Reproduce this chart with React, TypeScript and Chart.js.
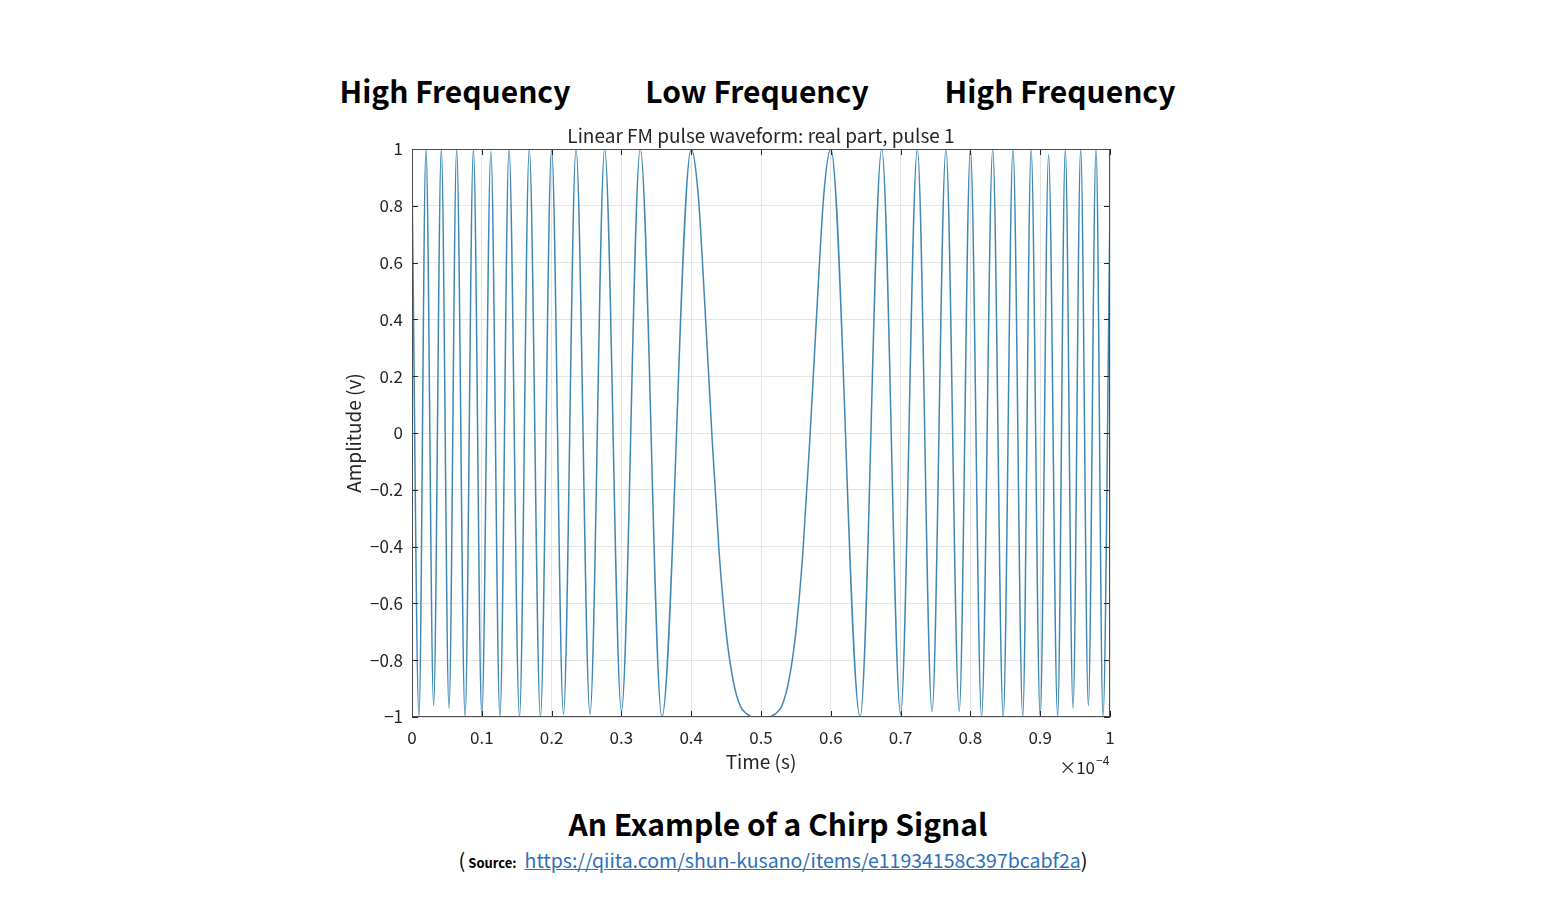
import React, { useEffect, useRef } from "react";
import { Chart, registerables, ChartConfiguration, Plugin } from "chart.js";

Chart.register(...registerables);

// texts
const headerLabels = ["High Frequency", "Low Frequency", "High Frequency"];
const headerCenters = [455, 757, 1060];
const chartTitle = "Linear FM pulse waveform: real part, pulse 1";
const xAxisTitle = "Time (s)";
const yAxisTitle = "Amplitude (v)";
const caption = "An Example of a Chirp Signal";
const sourceUrl = "https://qiita.com/shun-kusano/items/e11934158c397bcabf2a";

// ticks (x in units of 1e-4 s)
const xTicks = [0, 0.1, 0.2, 0.3, 0.4, 0.5, 0.6, 0.7, 0.8, 0.9, 1];
const yTicks = [-1, -0.8, -0.6, -0.4, -0.2, 0, 0.2, 0.4, 0.6, 0.8, 1];

// chirp waveform (turning points + points on the slow middle lobe)
const timeValues = [
  0, 0.01, 0.02, 0.031, 0.042, 0.053, 0.064, 0.076, 0.088, 0.1,
  0.113, 0.126, 0.139, 0.154, 0.168, 0.184, 0.2, 0.217, 0.235, 0.255,
  0.276, 0.3, 0.327, 0.358, 0.4, 0.41, 0.42, 0.43, 0.44, 0.45,
  0.46, 0.47, 0.48, 0.49, 0.5, 0.51, 0.52, 0.53, 0.54, 0.55,
  0.56, 0.57, 0.58, 0.59, 0.6, 0.642, 0.673, 0.7, 0.724, 0.745,
  0.765, 0.784, 0.8, 0.816, 0.832, 0.847, 0.861, 0.875, 0.887, 0.9,
  0.912, 0.925, 0.936, 0.947, 0.958, 0.969, 0.98, 0.99, 1,
];
const amplitudeValues = [
  0.9, -1, 1, -0.96, 1, -0.97, 1, -1, 1, -1,
  0.99, -1, 1, -1, 1, -1, 1, -0.99, 1, -0.99,
  1, -0.98, 1, -1, 1, 0.84, 0.43, -0.02, -0.42, -0.7,
  -0.87, -0.96, -0.99, -1, -1, -1, -0.99, -0.96, -0.87, -0.7,
  -0.42, -0.02, 0.43, 0.84, 1, -1, 1, -0.99, 1, -0.98,
  1, -0.98, 1, -1, 1, -1, 1, -1, 1, -1,
  0.98, -1, 1, -0.97, 1, -0.96, 1, -1, 0.78,
];

const axisColor = "#262626";
const textFont = "'Noto Sans CJK JP', 'Noto Sans', sans-serif";

const fmt = (v: number) => (v < 0 ? "\u2212" + String(Math.abs(v)) : String(v));

// MATLAB-like box: inward ticks on all sides, title over the axes, x exponent
const framePlugin: Plugin<"line"> = {
  id: "matlabFrame",
  afterDraw(chart) {
    const { ctx, chartArea: a, scales } = chart;
    const xs = scales.x;
    const ys = scales.y;
    const tl = 6;
    ctx.save();
    ctx.strokeStyle = axisColor;
    ctx.lineWidth = 1;
    ctx.beginPath();
    xTicks.forEach((v) => {
      const px = Math.round(xs.getPixelForValue(v)) + 0.5;
      ctx.moveTo(px, a.bottom);
      ctx.lineTo(px, a.bottom - tl);
      ctx.moveTo(px, a.top);
      ctx.lineTo(px, a.top + tl);
    });
    yTicks.forEach((v) => {
      const py = Math.round(ys.getPixelForValue(v)) + 0.5;
      ctx.moveTo(a.left, py);
      ctx.lineTo(a.left + tl, py);
      ctx.moveTo(a.right, py);
      ctx.lineTo(a.right - tl, py);
    });
    ctx.stroke();
    ctx.strokeStyle = "#4d4d4d";
    ctx.strokeRect(a.left + 0.5, a.top + 0.5, a.width - 1, a.height - 1);

    ctx.fillStyle = axisColor;
    ctx.textBaseline = "middle";
    ctx.textAlign = "center";
    ctx.font = "19px " + textFont;
    ctx.fillText(chartTitle, (a.left + a.right) / 2, a.top - 13);

    ctx.textAlign = "right";
    ctx.font = "17px " + textFont;
    ctx.fillText("\u00d710", a.right - 15, a.bottom + 51);
    ctx.textAlign = "left";
    ctx.font = "12px " + textFont;
    ctx.fillText("\u22124", a.right - 14, a.bottom + 43);
    ctx.restore();
  },
};

const ChirpChart: React.FC = () => {
  const canvasRef = useRef<HTMLCanvasElement>(null);
  const chartRef = useRef<Chart<"line"> | null>(null);

  useEffect(() => {
    if (!canvasRef.current) return;
    const points = timeValues.map((t, i) => ({ x: t, y: amplitudeValues[i] }));
    const config: ChartConfiguration<"line"> = {
      type: "line",
      data: {
        datasets: [
          {
            data: points,
            borderColor: "#3f88b6",
            borderWidth: 1.5,
            pointRadius: 0,
            cubicInterpolationMode: "monotone",
            fill: false,
          },
        ],
      },
      options: {
        animation: false,
        responsive: true,
        maintainAspectRatio: false,
        layout: { padding: { left: 0, top: 29, right: 50, bottom: 0 } },
        plugins: {
          legend: { display: false },
          tooltip: { enabled: false },
          title: { display: false },
        },
        scales: {
          x: {
            type: "linear",
            min: 0,
            max: 1,
            afterBuildTicks: (s) => {
              s.ticks = xTicks.map((v) => ({ value: v }));
            },
            afterFit: (s) => {
              s.height = 83;
            },
            ticks: {
              color: axisColor,
              font: { family: textFont, size: 17 },
              padding: 10.5,
              maxRotation: 0,
              autoSkip: false,
              callback: (v) => fmt(Number(v)),
            },
            grid: { color: "#e4e4e4", drawTicks: false },
            border: { display: false },
            title: {
              display: true,
              text: xAxisTitle,
              color: axisColor,
              font: { family: textFont, size: 19 },
              padding: { top: 0, bottom: 26.6 },
            },
          },
          y: {
            type: "linear",
            min: -1,
            max: 1,
            afterBuildTicks: (s) => {
              s.ticks = yTicks.map((v) => ({ value: v }));
            },
            afterFit: (s) => {
              s.width = 112;
            },
            ticks: {
              color: axisColor,
              font: { family: textFont, size: 17 },
              padding: 9,
              autoSkip: false,
              callback: (v) => fmt(Number(v)),
            },
            grid: { color: "#e4e4e4", drawTicks: false },
            border: { display: false },
            title: {
              display: true,
              text: yAxisTitle,
              color: axisColor,
              font: { family: textFont, size: 19 },
              padding: { top: 42.6, bottom: 0 },
            },
          },
        },
      },
      plugins: [framePlugin],
    };
    chartRef.current?.destroy();
    chartRef.current = new Chart(canvasRef.current, config);
    return () => {
      chartRef.current?.destroy();
      chartRef.current = null;
    };
  }, []);

  return (
    <div style={{ position: "absolute", left: 300, top: 120, width: 860, height: 680 }}>
      <canvas ref={canvasRef}></canvas>
    </div>
  );
};

export default function App() {
  return (
    <div
      style={{
        position: "absolute",
        left: 0,
        top: 0,
        width: 1548,
        height: 901,
        background: "#ffffff",
        overflow: "hidden",
        fontFamily: textFont,
      }}
    >
      {headerLabels.map((label, i) => (
        <div
          key={i}
          style={{
            position: "absolute",
            left: headerCenters[i],
            top: 90,
            transform: "translate(-50%, -50%)",
            fontSize: 30,
            fontWeight: 700,
            lineHeight: 1,
            whiteSpace: "nowrap",
            color: "#000",
          }}
        >
          {label}
        </div>
      ))}
      <ChirpChart />
      <div
        style={{
          position: "absolute",
          left: 778,
          top: 822.5,
          transform: "translate(-50%, -50%)",
          fontSize: 30,
          fontWeight: 700,
          lineHeight: 1,
          whiteSpace: "nowrap",
          color: "#000",
        }}
      >
        {caption}
      </div>
      <div
        style={{
          position: "absolute",
          left: 773,
          top: 860,
          transform: "translate(-50%, -50%)",
          display: "flex",
          alignItems: "baseline",
          whiteSpace: "nowrap",
          lineHeight: 1,
          color: "#000",
        }}
      >
        <span style={{ fontSize: 20 }}>(</span>
        <span style={{ fontSize: 13, fontWeight: 700, marginLeft: 3, marginRight: 8 }}>Source:</span>
        <a href={sourceUrl} style={{ fontSize: 19.5, color: "#2f6fb8", textDecoration: "underline" }}>
          {sourceUrl}
        </a>
        <span style={{ fontSize: 20 }}>)</span>
      </div>
    </div>
  );
}
